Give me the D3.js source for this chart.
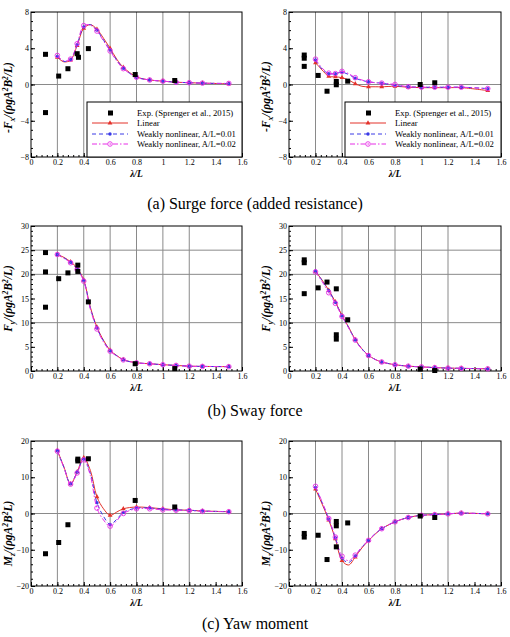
<!DOCTYPE html>
<html>
<head>
<meta charset="utf-8">
<script src="https://cdn.jsdelivr.net/npm/d3@7"></script>
<style>
  body { margin: 0; background: #fff; }
  svg { display: block; }
  text { font-family: "Liberation Serif", "Times New Roman", serif; fill: #000; }
</style>
</head>
<body>
<svg id="chart" width="510" height="637"></svg>
<script>
// wave length ratio where the computations were done
const lam = [0.2, 0.25, 0.3, 0.35, 0.4, 0.45, 0.5, 0.55, 0.6, 0.65, 0.7, 0.8, 0.9, 1.0, 1.1, 1.2, 1.3, 1.5]
// which of them carry a symbol
const symbolAt = [0.2, 0.3, 0.35, 0.4, 0.5, 0.6, 0.7, 0.8, 0.9, 1.0, 1.1, 1.2, 1.3, 1.5]

const xTicks = [0, 0.2, 0.4, 0.6, 0.8, 1, 1.2, 1.4, 1.6]
const xGrid = [0.2, 0.4, 0.6, 0.8, 1, 1.2]

// surge, left
const surgeL_lin = [3.0, 2.5, 2.7, 4.3, 6.2, 6.6, 6.1, 5.1, 4.0, 2.8, 1.9, 0.85, 0.5, 0.37, 0.25, 0.2, 0.15, 0.08]
const surgeL_w01 = [3.1, 2.55, 2.75, 4.4, 6.35, 6.6, 6.0, 4.9, 3.8, 2.7, 1.8, 0.8, 0.5, 0.37, 0.25, 0.2, 0.15, 0.1]
const surgeL_w02 = [3.2, 2.6, 2.8, 4.5, 6.5, 6.55, 5.9, 4.8, 3.7, 2.6, 1.75, 0.8, 0.5, 0.37, 0.25, 0.2, 0.15, 0.12]
const surgeL_expX = [0.11, 0.11, 0.21, 0.28, 0.35, 0.36, 0.435, 0.79, 1.09]
const surgeL_expY = [3.33, -3.1, 0.93, 1.74, 3.4, 3.0, 3.96, 1.1, 0.44]

// surge, right
const surgeR_lin = [2.4, 1.6, 0.9, 0.85, 0.75, 0.5, 0.08, -0.2, -0.25, -0.25, -0.25, -0.2, -0.3, -0.35, -0.35, -0.35, -0.35, -0.67]
const surgeR_w01 = [2.7, 1.7, 1.2, 1.2, 1.35, 1.1, 0.7, 0.45, 0.3, 0.2, 0.15, -0.1, -0.25, -0.3, -0.3, -0.3, -0.3, -0.45]
const surgeR_w02 = [2.8, 1.8, 1.25, 1.2, 1.45, 1.2, 0.75, 0.5, 0.3, 0.2, 0.15, 0.0, -0.25, -0.3, -0.3, -0.3, -0.3, -0.45]
const surgeR_expX = [0.115, 0.115, 0.115, 0.22, 0.287, 0.357, 0.357, 0.443, 0.99, 1.1]
const surgeR_expY = [3.25, 2.9, 2.0, 1.0, -0.74, 0.33, -0.03, 0.37, 0.0, 0.19]

// sway, left
const swayL_lin = [24.1, 23.5, 22.6, 21.3, 18.8, 13.2, 9.1, 6.35, 4.3, 3.2, 2.35, 1.7, 1.5, 1.3, 1.15, 1.0, 0.95, 0.9]
const swayL_w01 = [24.1, 23.4, 22.5, 21.1, 18.7, 13.0, 8.9, 6.2, 4.2, 3.15, 2.3, 1.7, 1.5, 1.3, 1.15, 1.0, 0.95, 0.9]
const swayL_w02 = [24.1, 23.3, 22.4, 21.0, 18.6, 12.8, 8.7, 6.0, 4.1, 3.1, 2.3, 1.7, 1.5, 1.3, 1.15, 1.0, 0.95, 0.9]
const swayL_expX = [0.11, 0.11, 0.11, 0.21, 0.28, 0.355, 0.355, 0.435, 0.79, 1.09]
const swayL_expY = [24.5, 20.5, 13.2, 19.1, 20.3, 21.9, 20.6, 14.3, 1.5, 0.5]

// sway, right
const swayR_lin = [20.6, 18.8, 16.7, 14.3, 11.5, 9.1, 6.5, 4.6, 3.25, 2.4, 1.86, 1.3, 1.0, 0.85, 0.7, 0.6, 0.55, 0.45]
const swayR_w01 = [20.7, 18.7, 16.6, 14.2, 11.4, 9.0, 6.4, 4.6, 3.25, 2.4, 1.86, 1.3, 1.0, 0.85, 0.7, 0.6, 0.55, 0.45]
const swayR_w02 = [20.5, 18.5, 16.2, 14.0, 11.3, 8.9, 6.4, 4.5, 3.2, 2.4, 1.86, 1.3, 1.0, 0.85, 0.7, 0.6, 0.55, 0.45]
const swayR_expX = [0.115, 0.115, 0.115, 0.22, 0.287, 0.357, 0.357, 0.357, 0.443, 0.99, 1.1]
const swayR_expY = [23.0, 22.4, 16.0, 17.2, 18.4, 17.0, 7.5, 6.6, 10.6, 0.4, 0.1]

// yaw, left
const yawL_lin = [17.4, 12.8, 8.2, 11.5, 15.4, 11.9, 4.6, 1.3, -0.5, 0.4, 1.3, 1.8, 1.6, 1.3, 1.0, 0.9, 0.7, 0.5]
const yawL_w01 = [17.3, 12.7, 8.2, 11.4, 15.0, 11.0, 3.0, -0.8, -3.0, -1.6, 0.3, 1.5, 1.5, 1.2, 1.0, 0.9, 0.7, 0.5]
const yawL_w02 = [17.2, 12.6, 8.1, 11.2, 14.8, 10.5, 1.5, -1.8, -3.5, -2.0, 0.0, 1.3, 1.3, 1.0, 0.9, 0.8, 0.6, 0.5]
const yawL_expX = [0.11, 0.21, 0.28, 0.355, 0.355, 0.435, 0.79, 1.09]
const yawL_expY = [-11.1, -8.0, -3.1, 15.0, 14.5, 15.1, 3.6, 1.8]

// yaw, right
const yawR_lin = [6.7, 2.6, -1.8, -7.0, -13.0, -14.2, -12.0, -9.5, -7.5, -5.7, -4.2, -2.3, -1.1, -0.5, -0.3, -0.1, 0.1, -0.1]
const yawR_w01 = [7.2, 3.0, -1.5, -6.7, -12.3, -13.5, -11.7, -9.3, -7.4, -5.6, -4.2, -2.3, -1.1, -0.5, -0.3, -0.1, 0.1, -0.1]
const yawR_w02 = [7.5, 3.2, -1.4, -6.5, -11.8, -13.0, -11.5, -9.2, -7.4, -5.6, -4.2, -2.3, -1.1, -0.5, -0.3, -0.1, 0.1, -0.1]
const yawR_expX = [0.115, 0.115, 0.22, 0.287, 0.357, 0.357, 0.357, 0.443, 0.99, 1.1]
const yawR_expY = [-5.5, -6.5, -6.0, -12.7, -2.2, -3.4, -9.2, -2.6, -0.7, -1.1]

const legendLabels = ["Exp. (Sprenger et al., 2015)", "Linear", "Weakly nonlinear, A/L=0.01", "Weakly nonlinear, A/L=0.02"]
const captions = ["(a) Surge force (added resistance)", "(b) Sway force", "(c) Yaw moment"]

const svg = d3.select("#chart")

const cols = [[31, 242], [289, 501]]
const rows = [[12, 157], [226, 371], [441, 586]]

const seriesStyle = [
    { color: "#e3322b", dash: null, marker: "tri" },
    { color: "#3a3ae6", dash: "4,3", marker: "dot" },
    { color: "#e62ee6", dash: "5,2,1.5,2", marker: "ring" }
]

const panels = [
    { r: 0, c: 0, yDomain: [-8, 8], yTicks: [-8, -4, 0, 4, 8], yMinor: 1, yGrid: [0], name: ["-F", "x"], labShift: 13, series: [surgeL_lin, surgeL_w01, surgeL_w02], ex: surgeL_expX, ey: surgeL_expY, legend: true },
    { r: 0, c: 1, yDomain: [-8, 8], yTicks: [-8, -4, 0, 4, 8], yMinor: 1, yGrid: [0], name: ["-F", "x"], labShift: 12, series: [surgeR_lin, surgeR_w01, surgeR_w02], ex: surgeR_expX, ey: surgeR_expY, legend: true },
    { r: 1, c: 0, yDomain: [0, 30], yTicks: [0, 5, 10, 15, 20, 25, 30], yMinor: 1, yGrid: [10, 20, 25], name: ["F", "y"], labShift: 0, series: [swayL_lin, swayL_w01, swayL_w02], ex: swayL_expX, ey: swayL_expY },
    { r: 1, c: 1, yDomain: [0, 30], yTicks: [0, 5, 10, 15, 20, 25, 30], yMinor: 1, yGrid: [10, 20, 25], name: ["F", "y"], labShift: 0, series: [swayR_lin, swayR_w01, swayR_w02], ex: swayR_expX, ey: swayR_expY },
    { r: 2, c: 0, yDomain: [-20, 20], yTicks: [-20, -10, 0, 10, 20], yMinor: 2, yGrid: [0], name: ["M", "z"], moment: true, labShift: 20, series: [yawL_lin, yawL_w01, yawL_w02], ex: yawL_expX, ey: yawL_expY },
    { r: 2, c: 1, yDomain: [-20, 20], yTicks: [-20, -10, 0, 10, 20], yMinor: 2, yGrid: [0], name: ["M", "z"], moment: true, labShift: 20, series: [yawR_lin, yawR_w01, yawR_w02], ex: yawR_expX, ey: yawR_expY }
]

function drawMarker(sel, kind, color) {
    if (kind == "tri") {
        sel.append("path").attr("d", d3.symbol(d3.symbolTriangle, 10)).attr("fill", color)
    } else if (kind == "dot") {
        sel.append("circle").attr("r", 1.7).attr("fill", color)
    } else {
        sel.append("circle").attr("r", 2.3).attr("fill", "none").attr("stroke", color).attr("stroke-width", 0.9)
    }
}

panels.forEach(p => {
    const [left, right] = cols[p.c]
    const [top, bottom] = rows[p.r]
    const x = d3.scaleLinear().domain([0, 1.6]).range([left, right])
    const y = d3.scaleLinear().domain(p.yDomain).range([bottom, top])
    const g = svg.append("g")

    // grid
    g.selectAll(".vg").data(xGrid).join("line")
        .attr("x1", d => x(d)).attr("x2", d => x(d))
        .attr("y1", top).attr("y2", bottom)
        .attr("stroke", "#8a8a8a").attr("stroke-width", 1)
    g.selectAll(".hg").data(p.yGrid).join("line")
        .attr("y1", d => y(d)).attr("y2", d => y(d))
        .attr("x1", left).attr("x2", right)
        .attr("stroke", "#8a8a8a").attr("stroke-width", 1)

    // axes, ticks pointing inward
    const xMinor = d3.range(0, 1.6001, 0.04)
    g.append("g").attr("transform", `translate(0,${bottom})`)
        .call(d3.axisBottom(x).tickValues(xMinor).tickSize(-2).tickFormat(""))
        .call(a => a.select(".domain").remove())
    g.append("g").attr("transform", `translate(0,${bottom})`)
        .call(d3.axisBottom(x).tickValues(xTicks).tickSize(-4).tickPadding(2).tickFormat(d3.format("~g")))
        .call(a => a.select(".domain").remove())
        .call(a => a.selectAll("text").attr("font-size", 8).attr("font-family", "Liberation Serif").attr("fill", "#222"))

    const yMinor = d3.range(p.yDomain[0], p.yDomain[1] + 0.001, p.yMinor)
    g.append("g").attr("transform", `translate(${left},0)`)
        .call(d3.axisLeft(y).tickValues(yMinor).tickSize(-2).tickFormat(""))
        .call(a => a.select(".domain").remove())
    g.append("g").attr("transform", `translate(${left},0)`)
        .call(d3.axisLeft(y).tickValues(p.yTicks).tickSize(-4).tickPadding(2))
        .call(a => a.select(".domain").remove())
        .call(a => a.selectAll("text").attr("font-size", 8).attr("font-family", "Liberation Serif").attr("fill", "#222"))

    g.append("rect").attr("x", left).attr("y", top)
        .attr("width", right - left).attr("height", bottom - top)
        .attr("fill", "none").attr("stroke", "#000").attr("stroke-width", 1)

    // x title
    g.append("text").attr("x", (left + right) / 2).attr("y", bottom + 20)
        .attr("text-anchor", "middle").attr("font-size", 9.5)
        .attr("font-style", "italic").attr("font-weight", "bold")
        .text("λ/L")

    // y title
    const yt = g.append("text")
        .attr("transform", `translate(${left - 19},${(top + bottom) / 2 + p.labShift}) rotate(-90)`)
        .attr("text-anchor", "middle").attr("font-size", 11.5)
        .attr("font-style", "italic").attr("font-weight", "bold")
    yt.append("tspan").text(p.name[0])
    yt.append("tspan").attr("font-size", 7.5).attr("dy", 2.5).text(p.name[1])
    yt.append("tspan").attr("dy", -2.5).text("/(ρgA")
    yt.append("tspan").attr("font-size", 7.5).attr("dy", -4).text("2")
    yt.append("tspan").attr("dy", 4).text("B")
    yt.append("tspan").attr("font-size", 7.5).attr("dy", -4).text("2")
    yt.append("tspan").attr("dy", 4).text(p.moment ? "L)" : "/L)")

    // curves
    const line = d3.line()
        .x(d => x(d[0])).y(d => y(d[1]))
        .curve(d3.curveCatmullRom.alpha(0.5))
    p.series.forEach((vals, i) => {
        const st = seriesStyle[i]
        const pts = lam.map((l, k) => [l, vals[k]])
        g.append("path").datum(pts).attr("d", line)
            .attr("fill", "none").attr("stroke", st.color).attr("stroke-width", 1)
            .attr("stroke-dasharray", st.dash)
        const m = g.selectAll(null).data(pts.filter(d => symbolAt.includes(d[0]))).join("g")
            .attr("transform", d => `translate(${x(d[0])},${y(d[1])})`)
        drawMarker(m, st.marker, st.color)
    })

    // experiment
    g.selectAll(".exp").data(p.ex.map((v, k) => [v, p.ey[k]])).join("rect")
        .attr("x", d => x(d[0]) - 2.5).attr("y", d => y(d[1]) - 2.5)
        .attr("width", 5).attr("height", 5).attr("fill", "#000")

    // legend
    if (p.legend) {
        const lx = left + 56, ly = top + 90
        const lg = g.append("g")
        lg.append("rect").attr("x", lx).attr("y", ly).attr("width", right - lx).attr("height", bottom - ly)
            .attr("fill", "#fff").attr("stroke", "#000").attr("stroke-width", 1)
        const rowsY = [11, 21, 32, 42]
        legendLabels.forEach((lab, i) => {
            const yy = ly + rowsY[i]
            if (i == 0) {
                lg.append("rect").attr("x", lx + 21).attr("y", yy - 2.5).attr("width", 5).attr("height", 5).attr("fill", "#000")
            } else {
                const st = seriesStyle[i - 1]
                lg.append("line").attr("x1", lx + 5).attr("x2", lx + 41).attr("y1", yy).attr("y2", yy)
                    .attr("stroke", st.color).attr("stroke-width", 1).attr("stroke-dasharray", st.dash)
                drawMarker(lg.append("g").attr("transform", `translate(${lx + 23},${yy})`), st.marker, st.color)
            }
            lg.append("text").attr("x", lx + 50).attr("y", yy + 3)
                .attr("font-size", 8.7).text(lab)
        })
    }
})

// captions
const capY = [209, 416, 629]
svg.selectAll(".cap").data(captions).join("text")
    .attr("x", 255).attr("y", (d, i) => capY[i])
    .attr("text-anchor", "middle").attr("font-size", 16)
    .text(d => d)
</script>
</body>
</html>
